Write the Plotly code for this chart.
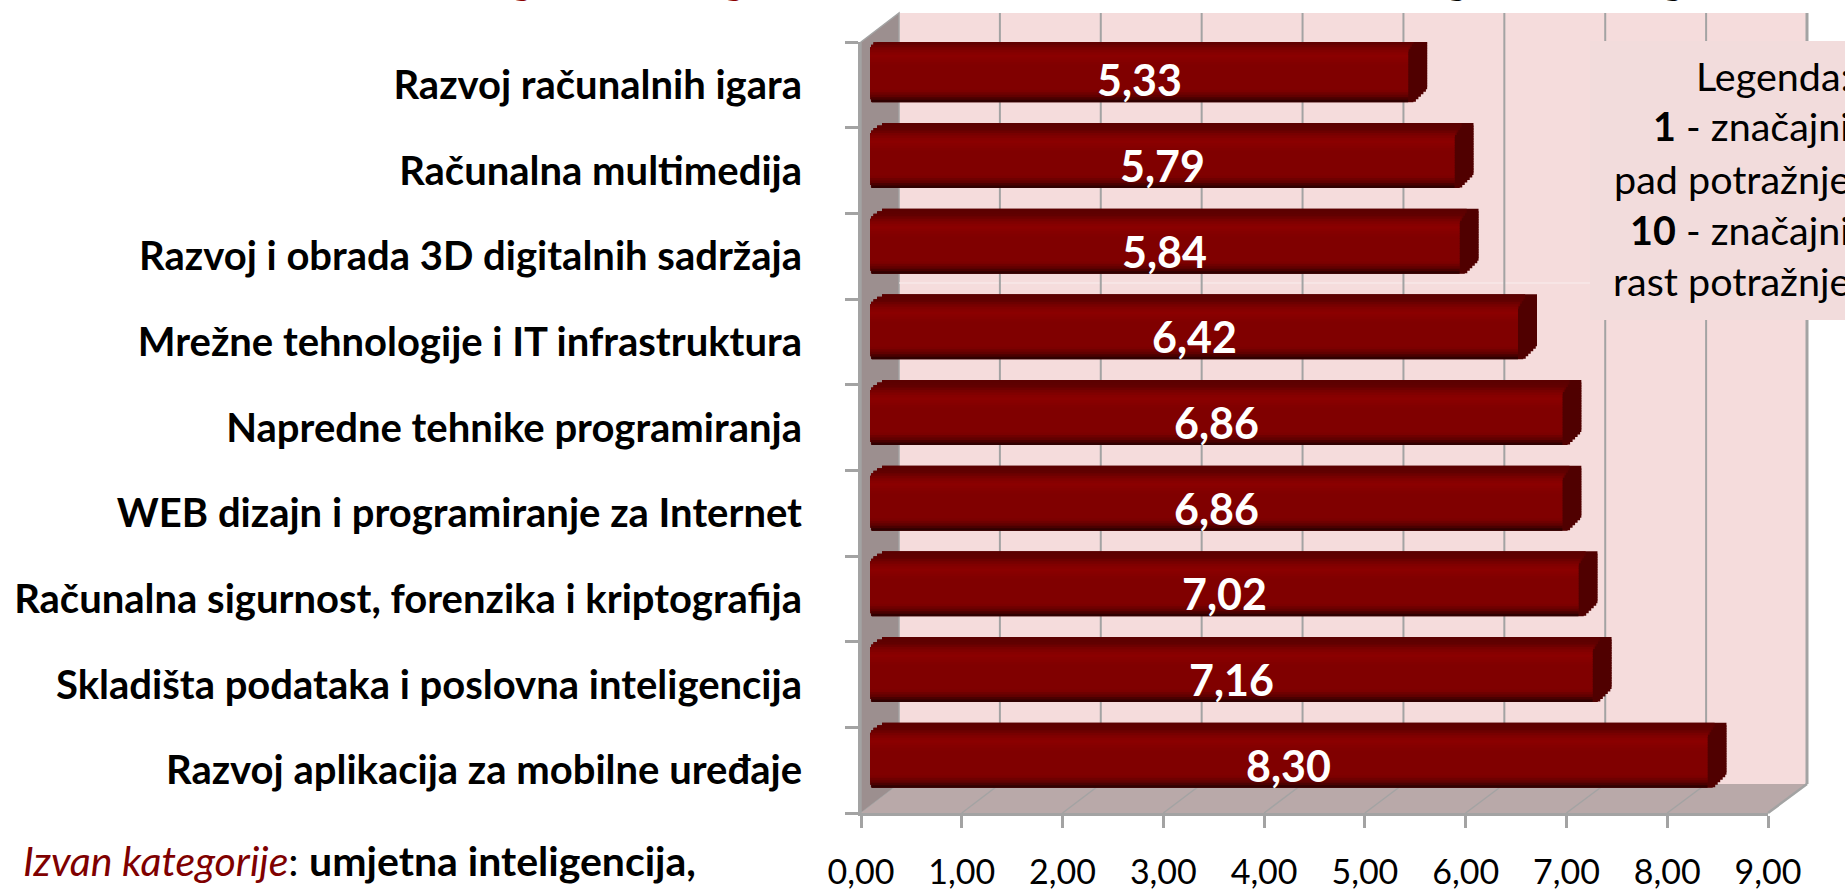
import plotly.graph_objects as go

categories = [
    "Razvoj aplikacija za mobilne uređaje",
    "Skladišta podataka i poslovna inteligencija",
    "Računalna sigurnost, forenzika i kriptografija",
    "WEB dizajn i programiranje za Internet",
    "Napredne tehnike programiranja",
    "Mrežne tehnologije i IT infrastruktura",
    "Razvoj i obrada 3D digitalnih sadržaja",
    "Računalna multimedija",
    "Razvoj računalnih igara",
]
values = [8.30, 7.16, 7.02, 6.86, 6.86, 6.42, 5.84, 5.79, 5.33]
x_ticks = list(range(10))
x_tick_labels = ["0,00", "1,00", "2,00", "3,00", "4,00", "5,00", "6,00", "7,00", "8,00", "9,00"]
legend_lines = [
    "Legenda:",
    "<b>1</b> - značajni",
    "pad potražnje",
    "<b>10</b> - značajni",
    "rast potražnje",
]

W, H = 1845, 889
FONT = "Lato"
X0, X9 = 861, 1768        # front axis pixels
BX0, BX9 = 899, 1807      # back wall pixels
Y_TOP, Y_BOT = 42, 813    # front axis pixels
BY_TOP, BY_BOT = 13, 784  # back wall pixels
PX_X = (X9 - X0) / 9
PX_Y = (Y_BOT - Y_TOP) / 9


def px(v):
    return v / W


def py(v):
    return 1 - v / H


def lerp_colour(t):
    stops = [(0, 0x5a), (6, 0x60), (12, 0x7c), (18, 0x8c), (28, 0x80), (53, 0x80), (59, 0x60), (65, 0x24)]
    for (a, ca), (b, cb) in zip(stops, stops[1:]):
        if a <= t <= b:
            return f"rgb({round(ca + (cb - ca) * (t - a) / (b - a))},0,0)"
    return "rgb(128,0,0)"


def left_edge(t):
    if t < 12:
        return 9 + 15 * ((12 - t) / 12) ** 2
    if t > 58:
        return 9 + (t - 58) * 0.3
    return 9


def body_end(t):
    return 10 + (8 * (1 - t / 12) if t < 12 else 0)


def cap_end(t):
    if t > 50:
        return 29 - (t - 50) / 15 * 15
    return 29


fig = go.Figure()
BAND = 2.5
OVERLAP = 2.0
BAR_TOP = 47.5  # bar top above the category centre, px
BAR_H = 65
N = 26


def add_layer(end_fn, colour_fn):
    for i in range(N):
        t = i * BAND
        mid = t + BAND / 2
        h = min(BAND + OVERLAP, BAR_H - t)
        fig.add_trace(go.Bar(
            orientation="h", y=categories,
            x=[v + (end_fn(mid) - left_edge(mid)) / PX_X for v in values],
            base=left_edge(mid) / PX_X,
            offset=(BAR_TOP - t - h) / PX_Y, width=h / PX_Y,
            marker=dict(color=colour_fn(mid), line=dict(width=0)),
            cliponaxis=False, hoverinfo="skip", showlegend=False,
        ))


add_layer(cap_end, lambda t: "#500000")
add_layer(body_end, lerp_colour)

GRID = "#a3a3a3"
shapes = [
    dict(type="rect", xref="paper", yref="paper", x0=px(BX0), x1=px(BX9), y0=py(BY_BOT), y1=py(BY_TOP),
         fillcolor="#f5dcdc", line_width=0, layer="below"),
    dict(type="path", xref="paper", yref="paper", layer="below",
         path=f"M{px(X0)},{py(Y_TOP)} L{px(BX0)},{py(BY_TOP)} L{px(BX0)},{py(BY_BOT)} L{px(X0)},{py(Y_BOT)} Z",
         fillcolor="#9c8f8f", line=dict(color=GRID, width=1.5)),
    dict(type="path", xref="paper", yref="paper", layer="below",
         path=f"M{px(X0)},{py(Y_BOT)} L{px(BX0)},{py(BY_BOT)} L{px(BX9)},{py(BY_BOT)} L{px(X9)},{py(Y_BOT)} Z",
         fillcolor="#b9a9a9", line_width=0),
    dict(type="line", xref="paper", yref="paper", layer="below", x0=px(X9), y0=py(Y_BOT), x1=px(BX9), y1=py(BY_BOT),
         line=dict(color=GRID, width=2.5)),
    dict(type="line", xref="paper", yref="paper", layer="below", x0=px(BX0), y0=py(283), x1=px(1590), y1=py(283),
         line=dict(color="#f9eeee", width=1)),
]
for tick in x_ticks[1:]:
    back_x = px(BX0 + tick * (BX9 - BX0) / 9)
    shapes.append(dict(type="line", xref="paper", yref="paper", layer="below",
                       x0=back_x, x1=back_x, y0=py(BY_BOT), y1=py(BY_TOP),
                       line=dict(color=GRID, width=3 if tick == x_ticks[-1] else 2)))
for tick in x_ticks[1:-1]:
    shapes.append(dict(type="line", xref="paper", yref="paper", layer="below",
                       x0=px(X0 + tick * PX_X), y0=py(Y_BOT),
                       x1=px(BX0 + tick * (BX9 - BX0) / 9), y1=py(BY_BOT),
                       line=dict(color=GRID, width=1.5)))
shapes.append(dict(type="rect", xref="paper", yref="paper", x0=px(1590), x1=1.0, y0=py(320), y1=py(41),
                   fillcolor="#f2dcdc", line_width=0, layer="above"))

annotations = [
    dict(xref="x", yref="y", x=(v + 0.19) / 2, y=c, yshift=5, text=f"{v:.2f}".replace(".", ","),
         showarrow=False, font=dict(family=FONT, size=43, color="white", weight=700))
    for c, v in zip(categories, values)
]
for line, yc in zip(legend_lines, [75, 126, 178, 229, 280]):
    annotations.append(dict(xref="paper", yref="paper", x=px(1852), y=py(yc), text=line, showarrow=False,
                            xanchor="right", yanchor="middle", align="right",
                            font=dict(family=FONT, size=39.5, color="black")))
annotations.append(dict(xref="paper", yref="paper", x=px(21), y=py(860), xanchor="left", yanchor="middle",
                        showarrow=False, align="left",
                        text='<i><span style="color:#7f0000">Izvan kategorije</span></i>: <b>umjetna inteligencija,</b>',
                        font=dict(family=FONT, size=41, color="black")))
for xc, col in [(510, "#8c0000"), (734, "#8c0000"), (1469, "black"), (1685, "black")]:
    annotations.append(dict(xref="paper", yref="paper", x=px(xc), y=1, yanchor="bottom", yshift=-5,
                            showarrow=False, text="g", font=dict(family=FONT, size=38, color=col, weight=700)))

fig.update_layout(
    width=W, height=H, margin=dict(l=0, r=0, t=0, b=0, autoexpand=False), autosize=False,
    paper_bgcolor="white", plot_bgcolor="rgba(0,0,0,0)",
    barmode="overlay", showlegend=False, shapes=shapes, annotations=annotations,
    xaxis=dict(domain=[px(X0), px(X9)], range=[0, 9], tickvals=x_ticks, ticktext=x_tick_labels,
               ticks="outside", ticklen=12, tickwidth=2.5, tickcolor=GRID, showgrid=False,
               showline=True, linecolor=GRID, linewidth=3, zeroline=False,
               ticklabelstandoff=15, tickfont=dict(family=FONT, size=34, color="black")),
    yaxis=dict(domain=[py(Y_BOT), py(Y_TOP)], type="category", categoryorder="array", categoryarray=categories,
               range=[-0.5, 8.5], tickson="boundaries", ticks="outside", ticklen=13, tickwidth=2.5, tickcolor=GRID,
               showgrid=False, showline=True, linecolor=GRID, linewidth=3, zeroline=False,
               ticklabelstandoff=48, tickfont=dict(family=FONT, size=40, color="black", weight=700)),
)

fig.write_html("out.html", default_width=f"{W}px", default_height=f"{H}px",
               config={"responsive": False, "displayModeBar": False},
               post_script="document.body.style.margin='0';document.body.style.overflow='hidden';")
